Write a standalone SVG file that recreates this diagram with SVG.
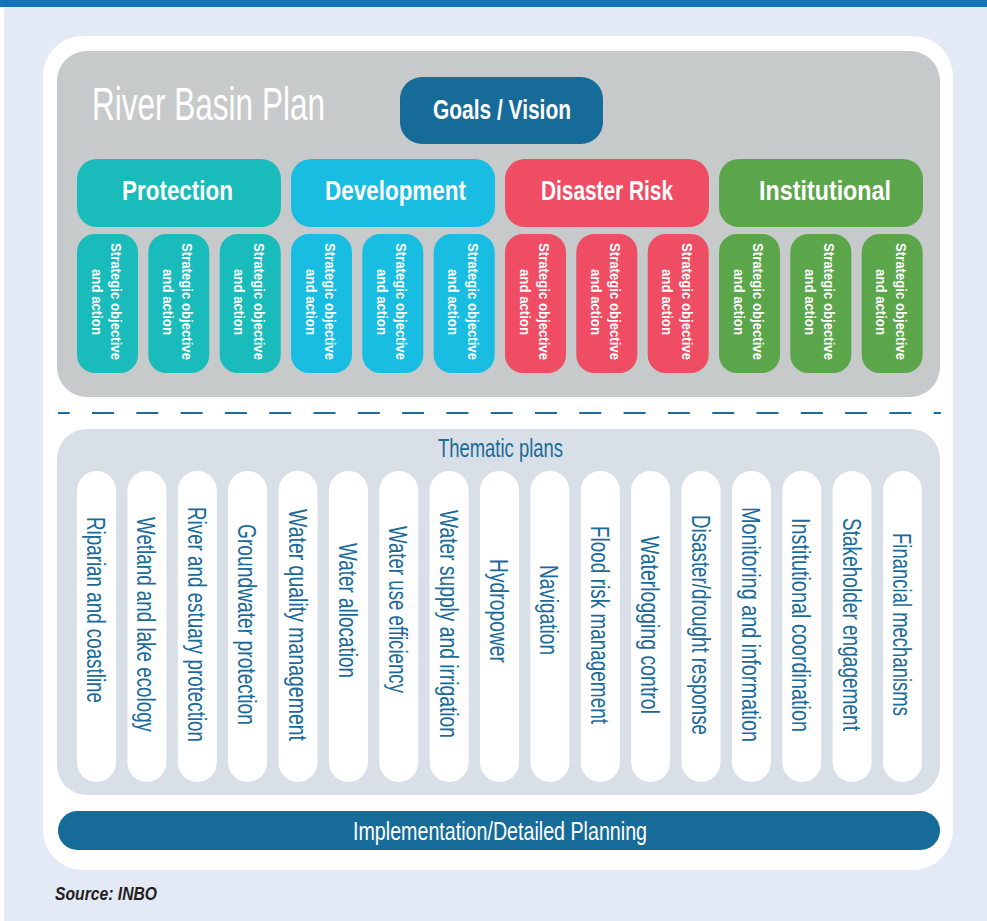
<svg xmlns="http://www.w3.org/2000/svg" width="987" height="921" viewBox="0 0 987 921">
  <style>
    .f { font-family: "Liberation Sans Narrow", "Liberation Sans", "DejaVu Sans Condensed", sans-serif; }
    .title { font-size: 46px; fill: #ffffff; font-weight: 300; }
    .cat { font-size: 28px; fill: #ffffff; font-weight: bold; }
    .goal { font-size: 27px; fill: #ffffff; font-weight: bold; }
    .so { font-size: 15px; fill: #ffffff; font-weight: bold; }
    .them { font-size: 26.5px; fill: #1A6B9A; }
    .themhead { font-size: 25px; fill: #1A6B9A; }
    .impl { font-size: 25px; fill: #ffffff; }
    .src { font-size: 18px; fill: #231F20; font-weight: bold; font-style: italic; }
    .prot { fill: #1ABBBB; }
    .dev { fill: #19BDE2; }
    .dis { fill: #EE4D64; }
    .inst { fill: #5BA54A; }
    .pill { fill: #ffffff; }
  </style>

  <!-- background -->
  <rect x="0" y="0" width="987" height="921" fill="#E3E9F5"/>
  <rect x="0" y="0" width="987" height="7" fill="#1273BA"/>
  <rect x="0" y="7" width="4" height="914" fill="#ffffff"/>
  <rect x="43" y="36" width="910" height="834" rx="40" ry="40" fill="#ffffff"/>

  <!-- River basin plan panel -->
  <g id="river-basin-plan">
    <rect x="57" y="51" width="883" height="346" rx="30" ry="30" fill="#C7CACB"/>
    <text class="f title" x="92" y="120" textLength="233" lengthAdjust="spacingAndGlyphs">River Basin Plan</text>
  </g>

  <g id="goals-vision">
    <rect x="400" y="77" width="203" height="67" rx="22" ry="22" fill="#176B98"/>
    <text class="f goal" x="433" y="119" textLength="138" lengthAdjust="spacingAndGlyphs">Goals / Vision</text>
  </g>

  <g id="protection">
    <rect class="prot" x="77" y="159" width="204" height="68" rx="20" ry="20"/>
    <text class="f cat" x="122" y="200" textLength="111" lengthAdjust="spacingAndGlyphs">Protection</text>
  </g>
  <g id="development">
    <rect class="dev" x="291" y="159" width="204" height="68" rx="20" ry="20"/>
    <text class="f cat" x="325" y="200" textLength="141" lengthAdjust="spacingAndGlyphs">Development</text>
  </g>
  <g id="disaster-risk">
    <rect class="dis" x="505" y="159" width="204" height="68" rx="20" ry="20"/>
    <text class="f cat" x="541" y="200" textLength="132" lengthAdjust="spacingAndGlyphs">Disaster Risk</text>
  </g>
  <g id="institutional">
    <rect class="inst" x="719" y="159" width="204" height="68" rx="20" ry="20"/>
    <text class="f cat" x="759" y="200" textLength="132" lengthAdjust="spacingAndGlyphs">Institutional</text>
  </g>

  <!-- strategic objective boxes -->
  <g id="so-protection-1">
    <rect class="prot" x="77" y="234" width="61" height="139" rx="18" ry="18"/>
    <text class="f so" transform="translate(111,243) rotate(90)" textLength="117" lengthAdjust="spacingAndGlyphs">Strategic objective</text>
    <text class="f so" transform="translate(91.7,269) rotate(90)" textLength="66" lengthAdjust="spacingAndGlyphs">and action</text>
  </g>
  <g id="so-protection-2">
    <rect class="prot" x="148.3" y="234" width="61" height="139" rx="18" ry="18"/>
    <text class="f so" transform="translate(182.3,243) rotate(90)" textLength="117" lengthAdjust="spacingAndGlyphs">Strategic objective</text>
    <text class="f so" transform="translate(163,269) rotate(90)" textLength="66" lengthAdjust="spacingAndGlyphs">and action</text>
  </g>
  <g id="so-protection-3">
    <rect class="prot" x="219.7" y="234" width="61" height="139" rx="18" ry="18"/>
    <text class="f so" transform="translate(253.7,243) rotate(90)" textLength="117" lengthAdjust="spacingAndGlyphs">Strategic objective</text>
    <text class="f so" transform="translate(234.4,269) rotate(90)" textLength="66" lengthAdjust="spacingAndGlyphs">and action</text>
  </g>
  <g id="so-development-1">
    <rect class="dev" x="291" y="234" width="61" height="139" rx="18" ry="18"/>
    <text class="f so" transform="translate(325,243) rotate(90)" textLength="117" lengthAdjust="spacingAndGlyphs">Strategic objective</text>
    <text class="f so" transform="translate(305.7,269) rotate(90)" textLength="66" lengthAdjust="spacingAndGlyphs">and action</text>
  </g>
  <g id="so-development-2">
    <rect class="dev" x="362.3" y="234" width="61" height="139" rx="18" ry="18"/>
    <text class="f so" transform="translate(396.3,243) rotate(90)" textLength="117" lengthAdjust="spacingAndGlyphs">Strategic objective</text>
    <text class="f so" transform="translate(377,269) rotate(90)" textLength="66" lengthAdjust="spacingAndGlyphs">and action</text>
  </g>
  <g id="so-development-3">
    <rect class="dev" x="433.7" y="234" width="61" height="139" rx="18" ry="18"/>
    <text class="f so" transform="translate(467.7,243) rotate(90)" textLength="117" lengthAdjust="spacingAndGlyphs">Strategic objective</text>
    <text class="f so" transform="translate(448.4,269) rotate(90)" textLength="66" lengthAdjust="spacingAndGlyphs">and action</text>
  </g>
  <g id="so-disaster-1">
    <rect class="dis" x="505" y="234" width="61" height="139" rx="18" ry="18"/>
    <text class="f so" transform="translate(539,243) rotate(90)" textLength="117" lengthAdjust="spacingAndGlyphs">Strategic objective</text>
    <text class="f so" transform="translate(519.7,269) rotate(90)" textLength="66" lengthAdjust="spacingAndGlyphs">and action</text>
  </g>
  <g id="so-disaster-2">
    <rect class="dis" x="576.3" y="234" width="61" height="139" rx="18" ry="18"/>
    <text class="f so" transform="translate(610.3,243) rotate(90)" textLength="117" lengthAdjust="spacingAndGlyphs">Strategic objective</text>
    <text class="f so" transform="translate(591,269) rotate(90)" textLength="66" lengthAdjust="spacingAndGlyphs">and action</text>
  </g>
  <g id="so-disaster-3">
    <rect class="dis" x="647.7" y="234" width="61" height="139" rx="18" ry="18"/>
    <text class="f so" transform="translate(681.7,243) rotate(90)" textLength="117" lengthAdjust="spacingAndGlyphs">Strategic objective</text>
    <text class="f so" transform="translate(662.4,269) rotate(90)" textLength="66" lengthAdjust="spacingAndGlyphs">and action</text>
  </g>
  <g id="so-institutional-1">
    <rect class="inst" x="719" y="234" width="61" height="139" rx="18" ry="18"/>
    <text class="f so" transform="translate(753,243) rotate(90)" textLength="117" lengthAdjust="spacingAndGlyphs">Strategic objective</text>
    <text class="f so" transform="translate(733.7,269) rotate(90)" textLength="66" lengthAdjust="spacingAndGlyphs">and action</text>
  </g>
  <g id="so-institutional-2">
    <rect class="inst" x="790.3" y="234" width="61" height="139" rx="18" ry="18"/>
    <text class="f so" transform="translate(824.3,243) rotate(90)" textLength="117" lengthAdjust="spacingAndGlyphs">Strategic objective</text>
    <text class="f so" transform="translate(805,269) rotate(90)" textLength="66" lengthAdjust="spacingAndGlyphs">and action</text>
  </g>
  <g id="so-institutional-3">
    <rect class="inst" x="861.7" y="234" width="61" height="139" rx="18" ry="18"/>
    <text class="f so" transform="translate(895.7,243) rotate(90)" textLength="117" lengthAdjust="spacingAndGlyphs">Strategic objective</text>
    <text class="f so" transform="translate(876.4,269) rotate(90)" textLength="66" lengthAdjust="spacingAndGlyphs">and action</text>
  </g>

  <!-- divider -->
  <g id="connectors">
    <line x1="58" y1="413" x2="941" y2="413" stroke="#1D6D9B" stroke-width="2.2" stroke-dasharray="22 22.3" stroke-dashoffset="10.3"/>
  </g>

  <!-- thematic plans -->
  <g id="thematic-plans">
    <rect x="57" y="429" width="883" height="366" rx="30" ry="30" fill="#D8DFE6"/>
    <text class="f themhead" x="438" y="457" textLength="125" lengthAdjust="spacingAndGlyphs">Thematic plans</text>
  </g>

  <g id="tp-riparian">
    <rect class="pill" x="77" y="471" width="39" height="311" rx="19.5" ry="19.5"/>
    <text class="f them" transform="translate(87,517) rotate(90)" textLength="186" lengthAdjust="spacingAndGlyphs">Riparian and coastline</text>
  </g>
  <g id="tp-wetland">
    <rect class="pill" x="127.4" y="471" width="39" height="311" rx="19.5" ry="19.5"/>
    <text class="f them" transform="translate(137.4,517) rotate(90)" textLength="215" lengthAdjust="spacingAndGlyphs">Wetland and lake ecology</text>
  </g>
  <g id="tp-river-estuary">
    <rect class="pill" x="177.8" y="471" width="39" height="311" rx="19.5" ry="19.5"/>
    <text class="f them" transform="translate(187.8,507) rotate(90)" textLength="235" lengthAdjust="spacingAndGlyphs">River and estuary protection</text>
  </g>
  <g id="tp-groundwater">
    <rect class="pill" x="228.1" y="471" width="39" height="311" rx="19.5" ry="19.5"/>
    <text class="f them" transform="translate(238.1,524) rotate(90)" textLength="201" lengthAdjust="spacingAndGlyphs">Groundwater protection</text>
  </g>
  <g id="tp-water-quality">
    <rect class="pill" x="278.5" y="471" width="39" height="311" rx="19.5" ry="19.5"/>
    <text class="f them" transform="translate(288.5,509) rotate(90)" textLength="232" lengthAdjust="spacingAndGlyphs">Water quality management</text>
  </g>
  <g id="tp-water-allocation">
    <rect class="pill" x="328.9" y="471" width="39" height="311" rx="19.5" ry="19.5"/>
    <text class="f them" transform="translate(338.9,543) rotate(90)" textLength="135" lengthAdjust="spacingAndGlyphs">Water allocation</text>
  </g>
  <g id="tp-water-use">
    <rect class="pill" x="379.3" y="471" width="39" height="311" rx="19.5" ry="19.5"/>
    <text class="f them" transform="translate(389.3,526) rotate(90)" textLength="167" lengthAdjust="spacingAndGlyphs">Water use efficiency</text>
  </g>
  <g id="tp-water-supply">
    <rect class="pill" x="429.6" y="471" width="39" height="311" rx="19.5" ry="19.5"/>
    <text class="f them" transform="translate(439.6,510) rotate(90)" textLength="228" lengthAdjust="spacingAndGlyphs">Water supply and irrigation</text>
  </g>
  <g id="tp-hydropower">
    <rect class="pill" x="480" y="471" width="39" height="311" rx="19.5" ry="19.5"/>
    <text class="f them" transform="translate(490,559) rotate(90)" textLength="104" lengthAdjust="spacingAndGlyphs">Hydropower</text>
  </g>
  <g id="tp-navigation">
    <rect class="pill" x="530.4" y="471" width="39" height="311" rx="19.5" ry="19.5"/>
    <text class="f them" transform="translate(540.4,565) rotate(90)" textLength="90" lengthAdjust="spacingAndGlyphs">Navigation</text>
  </g>
  <g id="tp-flood-risk">
    <rect class="pill" x="580.8" y="471" width="39" height="311" rx="19.5" ry="19.5"/>
    <text class="f them" transform="translate(590.8,526) rotate(90)" textLength="198" lengthAdjust="spacingAndGlyphs">Flood risk management</text>
  </g>
  <g id="tp-waterlogging">
    <rect class="pill" x="631.1" y="471" width="39" height="311" rx="19.5" ry="19.5"/>
    <text class="f them" transform="translate(641.1,536) rotate(90)" textLength="178" lengthAdjust="spacingAndGlyphs">Waterlogging control</text>
  </g>
  <g id="tp-disaster-drought">
    <rect class="pill" x="681.5" y="471" width="39" height="311" rx="19.5" ry="19.5"/>
    <text class="f them" transform="translate(691.5,515) rotate(90)" textLength="220" lengthAdjust="spacingAndGlyphs">Disaster/drought response</text>
  </g>
  <g id="tp-monitoring">
    <rect class="pill" x="731.9" y="471" width="39" height="311" rx="19.5" ry="19.5"/>
    <text class="f them" transform="translate(741.9,507) rotate(90)" textLength="235" lengthAdjust="spacingAndGlyphs">Monitoring and information</text>
  </g>
  <g id="tp-institutional-coordination">
    <rect class="pill" x="782.3" y="471" width="39" height="311" rx="19.5" ry="19.5"/>
    <text class="f them" transform="translate(792.3,518) rotate(90)" textLength="214" lengthAdjust="spacingAndGlyphs">Institutional coordination</text>
  </g>
  <g id="tp-stakeholder">
    <rect class="pill" x="832.6" y="471" width="39" height="311" rx="19.5" ry="19.5"/>
    <text class="f them" transform="translate(842.6,518) rotate(90)" textLength="213" lengthAdjust="spacingAndGlyphs">Stakeholder engagement</text>
  </g>
  <g id="tp-financial">
    <rect class="pill" x="883" y="471" width="39" height="311" rx="19.5" ry="19.5"/>
    <text class="f them" transform="translate(893,533) rotate(90)" textLength="183" lengthAdjust="spacingAndGlyphs">Financial mechanisms</text>
  </g>

  <!-- implementation -->
  <g id="implementation">
    <rect x="58" y="811" width="882" height="39" rx="19.5" ry="19.5" fill="#176B98"/>
    <text class="f impl" x="353" y="840" textLength="294" lengthAdjust="spacingAndGlyphs">Implementation/Detailed Planning</text>
  </g>

  <g id="source">
    <text class="f src" x="55" y="900" textLength="102" lengthAdjust="spacingAndGlyphs">Source: INBO</text>
  </g>
</svg>
